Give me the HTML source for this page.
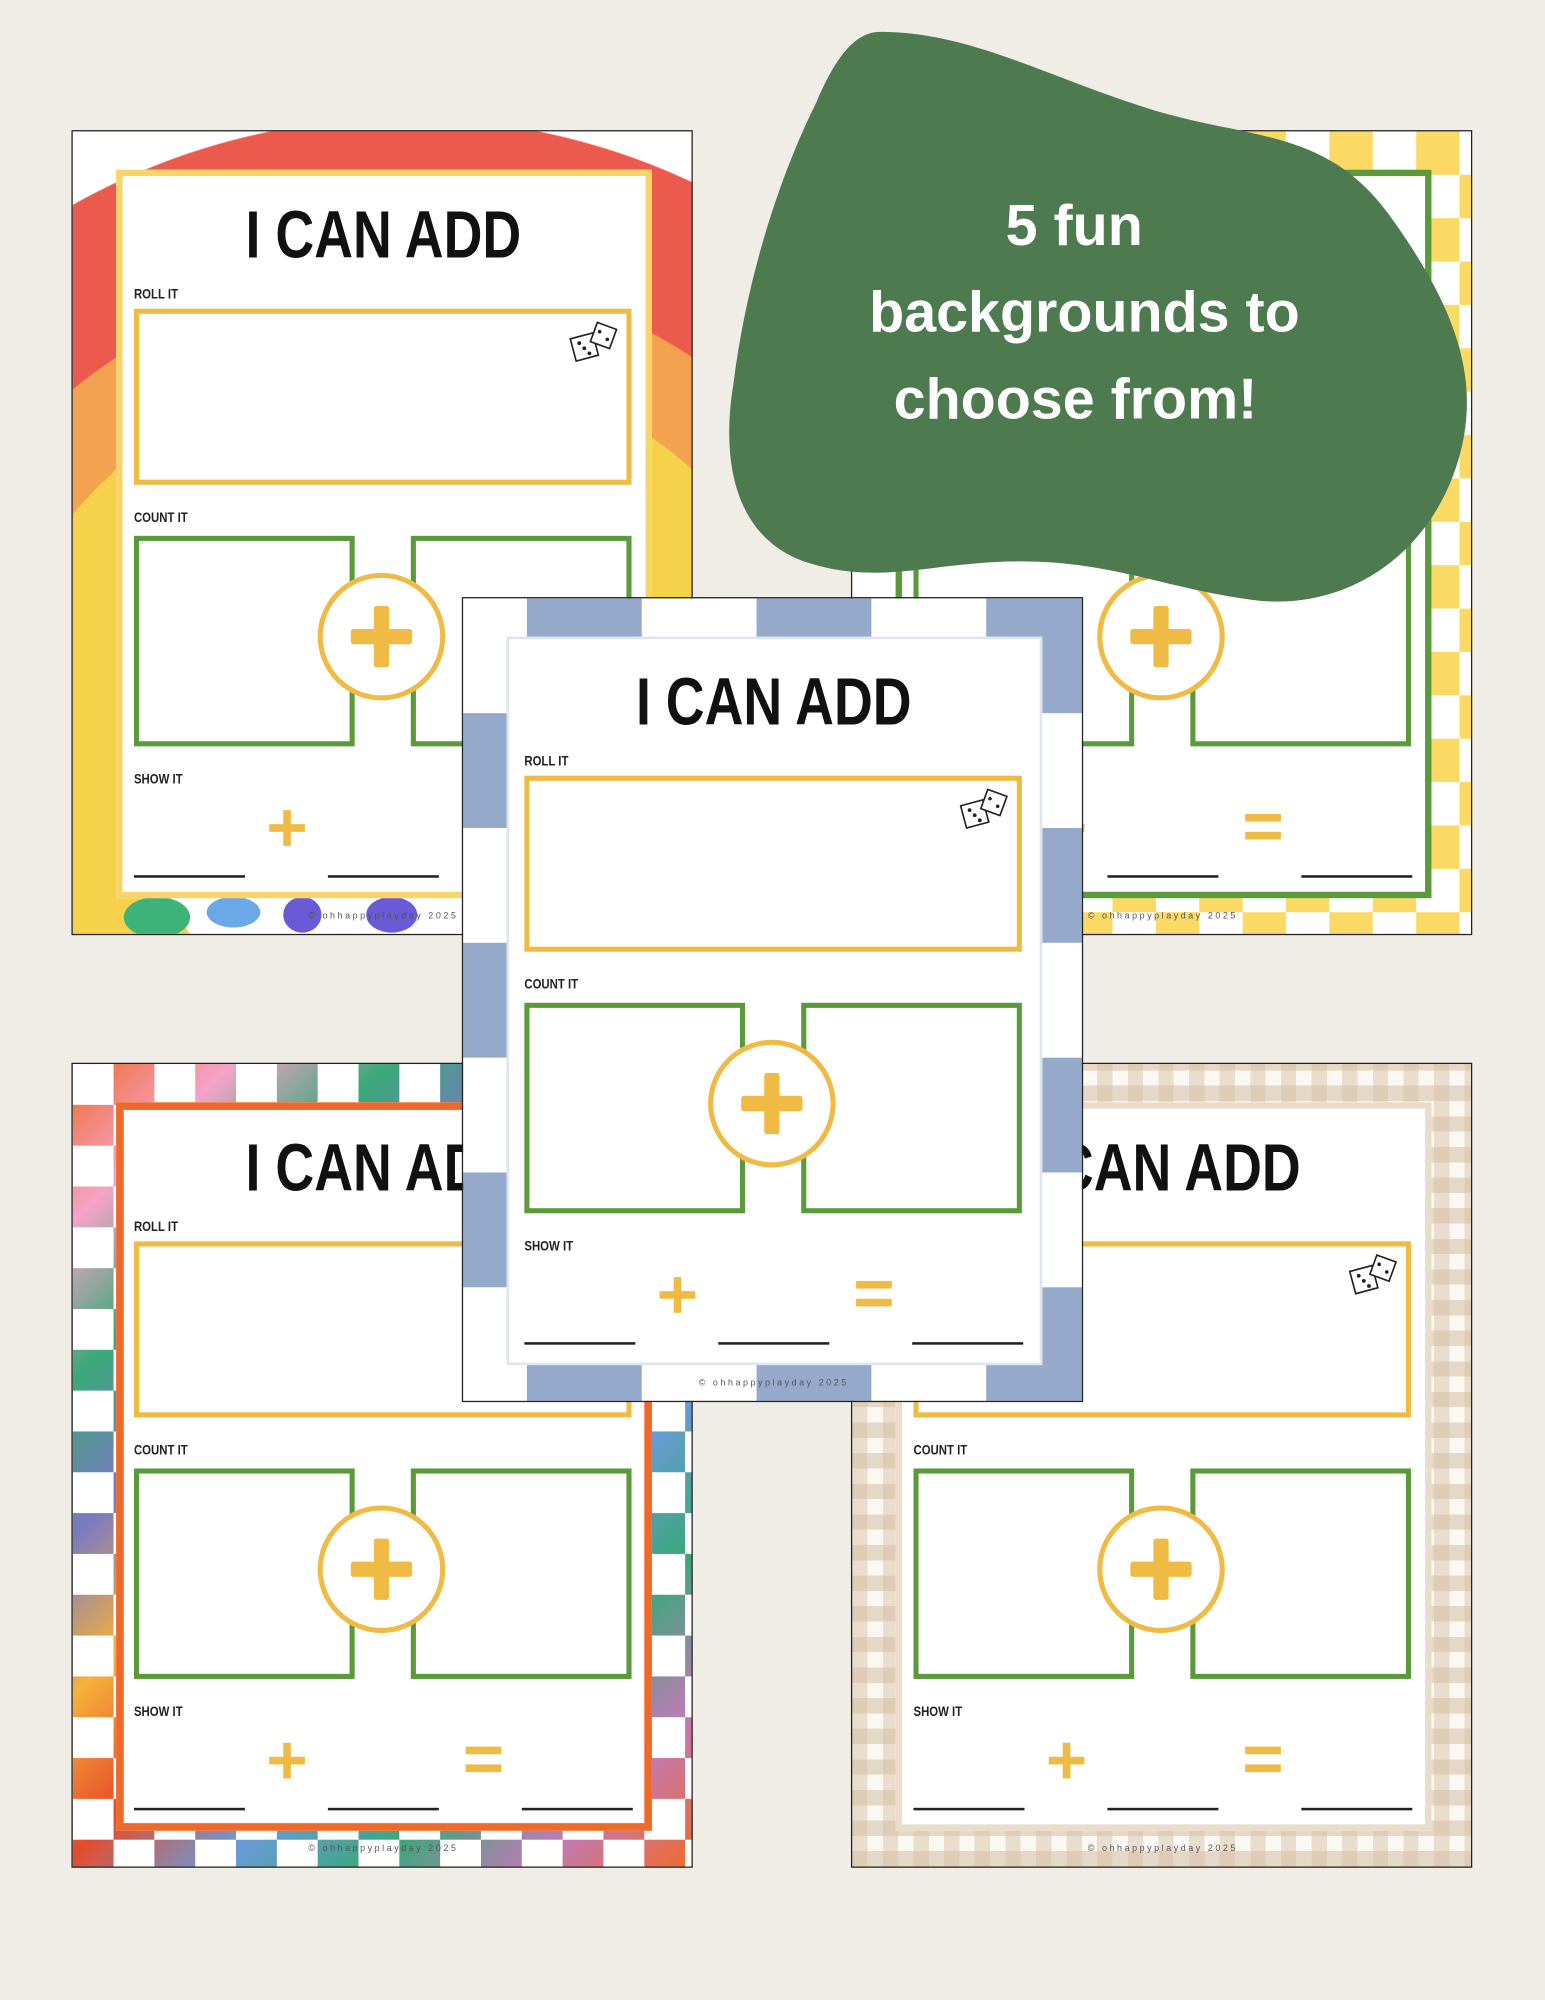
<!DOCTYPE html>
<html><head><meta charset="utf-8"><style>
html,body{margin:0;padding:0;background:#f0ede6;}
#wrap{position:relative;width:1211px;height:1568px;transform:scale(1.27580);transform-origin:0 0;overflow:hidden;font-family:"Liberation Sans",sans-serif;background:#f0ede6;}
.page{position:absolute;width:485px;height:629px;border:1.5px solid #222;background:#fff;overflow:hidden;}
.panel{position:absolute;left:34px;top:30px;width:420px;height:571px;background:#fff;box-sizing:border-box;}
.title{position:absolute;left:0;width:487px;top:52px;text-align:center;font-weight:bold;font-size:52px;line-height:60px;color:#111;transform:scaleX(0.81);}
.lbl{position:absolute;left:48px;font-size:10.5px;font-weight:bold;color:#222;transform:scaleX(0.85);transform-origin:0 0;}
.roll{position:absolute;left:48px;top:139px;width:390px;height:138px;border:4px solid #f0bb44;box-sizing:border-box;}
.cb{position:absolute;top:317px;width:173px;height:165px;border:4px solid #5a9a3a;box-sizing:border-box;}
.circ{position:absolute;left:192px;top:346px;width:100px;height:100px;border-radius:50%;border:4px solid #f0bb44;background:#fff;box-sizing:border-box;}
.circ:before{content:"";position:absolute;left:22px;top:40px;width:48px;height:12px;background:#f0bb44;border-radius:2px;}
.circ:after{content:"";position:absolute;left:40px;top:22px;width:12px;height:48px;background:#f0bb44;border-radius:2px;}
.pl{position:absolute;top:532px;width:28px;height:28px;}
.pl:before{content:"";position:absolute;left:0;top:11px;width:28px;height:6px;background:#f0bb44;}
.pl:after{content:"";position:absolute;left:11px;top:0;width:6px;height:28px;background:#f0bb44;}
.eq{position:absolute;top:535px;width:28px;height:21px;}
.eq:before,.eq:after{content:"";position:absolute;left:0;width:28px;height:6px;background:#f0bb44;}
.eq:before{top:0}.eq:after{top:14px}
.ln{position:absolute;top:583px;width:87px;height:2px;background:#222;}
.cp{position:absolute;top:612px;width:487px;text-align:center;font-size:7px;letter-spacing:2px;color:#555;}
.dice{position:absolute;left:388px;top:146px;}
</style></head><body><div id="wrap">

<!-- top-left rainbow -->
<div class="page" style="left:56px;top:102px;background:radial-gradient(circle at 260px 520px, #fff 0 200px, #f5d24a 201px 340px, #f3a350 341px 410px, #ec5a4e 411px 530px, #fff 531px);">
<div style="position:absolute;left:40px;top:600px;width:52px;height:32px;border-radius:50%;background:#3db37a"></div>
<div style="position:absolute;left:105px;top:600px;width:42px;height:24px;border-radius:50%;background:#6aa8e8"></div>
<div style="position:absolute;left:165px;top:600px;width:30px;height:28px;border-radius:50%;background:#6a5ad8"></div>
<div style="position:absolute;left:230px;top:600px;width:40px;height:28px;border-radius:50%;background:#6a5ad8"></div>
<div class="panel" style="border:5px solid #f7d56a;"></div>
<div class="title">I CAN ADD</div>
<div class="lbl" style="top:122px">ROLL IT</div>
<div class="roll"></div>
<svg class="dice" width="42" height="42" viewBox="0 0 42 42"><g fill="#fff" stroke="#222" stroke-width="1.3"><rect x="4" y="14" width="18" height="18" transform="rotate(-15 13 23)"/><rect x="20" y="6" width="16" height="16" transform="rotate(20 28 14)"/></g><g fill="#222"><circle cx="9" cy="20" r="1.5"/><circle cx="13" cy="24" r="1.5"/><circle cx="17" cy="28" r="1.5"/><circle cx="25" cy="11" r="1.4"/><circle cx="31" cy="17" r="1.4"/></g></svg>
<div class="lbl" style="top:297px">COUNT IT</div>
<div class="cb" style="left:48px"></div><div class="cb" style="left:265px"></div>
<div class="circ"></div>
<div class="lbl" style="top:502px">SHOW IT</div>
<div class="pl" style="left:154px"></div><div class="eq" style="left:308px"></div>
<div class="ln" style="left:48px"></div><div class="ln" style="left:200px"></div><div class="ln" style="left:352px"></div>
<div class="cp">© ohhappyplayday 2025</div>
</div>

<!-- top-right yellow checker -->
<div class="page" style="left:667px;top:102px;background:repeating-conic-gradient(#fbd965 0 25%, #fff 0 50%) 0 0/68px 68px;">
<div class="panel" style="border:5px solid #5a9a3a;"></div>
<div class="title">I CAN ADD</div>
<div class="lbl" style="top:122px">ROLL IT</div>
<div class="roll"></div>
<div class="lbl" style="top:297px">COUNT IT</div>
<div class="cb" style="left:48px"></div><div class="cb" style="left:265px"></div>
<div class="circ"></div>
<div class="lbl" style="top:502px">SHOW IT</div>
<div class="pl" style="left:154px"></div><div class="eq" style="left:308px"></div>
<div class="ln" style="left:48px"></div><div class="ln" style="left:200px"></div><div class="ln" style="left:352px"></div>
<div class="cp">© ohhappyplayday 2025</div>
</div>

<!-- bottom-left multicolor checker -->
<div class="page" style="left:56px;top:833px;background:repeating-conic-gradient(rgba(255,255,255,0) 0 25%, #fff 0 50%) 0 0/64px 64px, linear-gradient(135deg,#f06a2a,#f5a3c8,#3aa87a,#7a7ac0,#f5b13a,#e84a2a,#6a9ad8,#3aa87a,#c07ab8,#f06a2a);">
<div class="panel" style="border:6px solid #ef6a2a;"></div>
<div class="title">I CAN ADD</div>
<div class="lbl" style="top:122px">ROLL IT</div>
<div class="roll"></div>
<div class="lbl" style="top:297px">COUNT IT</div>
<div class="cb" style="left:48px"></div><div class="cb" style="left:265px"></div>
<div class="circ"></div>
<div class="lbl" style="top:502px">SHOW IT</div>
<div class="pl" style="left:154px"></div><div class="eq" style="left:308px"></div>
<div class="ln" style="left:48px"></div><div class="ln" style="left:200px"></div><div class="ln" style="left:352px"></div>
<div class="cp">© ohhappyplayday 2025</div>
</div>

<!-- bottom-right gingham -->
<div class="page" style="left:667px;top:833px;background:repeating-linear-gradient(90deg, rgba(215,190,160,.45) 0 12px, rgba(255,255,255,0) 12px 24px), repeating-linear-gradient(0deg, rgba(215,190,160,.45) 0 12px, #fbf7f2 12px 24px);">
<div class="panel" style="border:5px solid #e9dccb;"></div>
<div class="title">I CAN ADD</div>
<div class="lbl" style="top:122px">ROLL IT</div>
<div class="roll"></div>
<svg class="dice" width="42" height="42" viewBox="0 0 42 42"><g fill="#fff" stroke="#222" stroke-width="1.3"><rect x="4" y="14" width="18" height="18" transform="rotate(-15 13 23)"/><rect x="20" y="6" width="16" height="16" transform="rotate(20 28 14)"/></g><g fill="#222"><circle cx="9" cy="20" r="1.5"/><circle cx="13" cy="24" r="1.5"/><circle cx="17" cy="28" r="1.5"/><circle cx="25" cy="11" r="1.4"/><circle cx="31" cy="17" r="1.4"/></g></svg>
<div class="lbl" style="top:297px">COUNT IT</div>
<div class="cb" style="left:48px"></div><div class="cb" style="left:265px"></div>
<div class="circ"></div>
<div class="lbl" style="top:502px">SHOW IT</div>
<div class="pl" style="left:154px"></div><div class="eq" style="left:308px"></div>
<div class="ln" style="left:48px"></div><div class="ln" style="left:200px"></div><div class="ln" style="left:352px"></div>
<div class="cp">© ohhappyplayday 2025</div>
</div>

<!-- green blob -->
<svg style="position:absolute;left:0;top:0" width="1211" height="1568">
<path d="M690,25 C760,25 820,60 900,85 C980,110 1040,100 1090,170 C1140,240 1165,300 1140,370 C1115,440 1050,480 980,470 C910,460 870,440 800,440 C730,440 690,460 630,440 C575,420 565,360 575,300 C585,220 610,140 640,80 C655,45 670,25 690,25 Z" fill="#4e7a50"/>
<text x="842" y="192" fill="#fff" font-family="Liberation Sans, sans-serif" font-weight="bold" font-size="45" text-anchor="middle">5 fun</text>
<text x="850" y="260" fill="#fff" font-family="Liberation Sans, sans-serif" font-weight="bold" font-size="45" text-anchor="middle">backgrounds to</text>
<text x="843" y="328" fill="#fff" font-family="Liberation Sans, sans-serif" font-weight="bold" font-size="45" text-anchor="middle">choose from!</text>
</svg>

<!-- center blue checker -->
<div class="page" style="left:362px;top:468px;background:repeating-conic-gradient(#95aacb 0 25%, #fff 0 50%) -40px 0/180px 180px;">
<div class="panel" style="border:2px solid #dfe5ef;"></div>
<div class="title">I CAN ADD</div>
<div class="lbl" style="top:122px">ROLL IT</div>
<div class="roll"></div>
<svg class="dice" width="42" height="42" viewBox="0 0 42 42"><g fill="#fff" stroke="#222" stroke-width="1.3"><rect x="4" y="14" width="18" height="18" transform="rotate(-15 13 23)"/><rect x="20" y="6" width="16" height="16" transform="rotate(20 28 14)"/></g><g fill="#222"><circle cx="9" cy="20" r="1.5"/><circle cx="13" cy="24" r="1.5"/><circle cx="17" cy="28" r="1.5"/><circle cx="25" cy="11" r="1.4"/><circle cx="31" cy="17" r="1.4"/></g></svg>
<div class="lbl" style="top:297px">COUNT IT</div>
<div class="cb" style="left:48px"></div><div class="cb" style="left:265px"></div>
<div class="circ"></div>
<div class="lbl" style="top:502px">SHOW IT</div>
<div class="pl" style="left:154px"></div><div class="eq" style="left:308px"></div>
<div class="ln" style="left:48px"></div><div class="ln" style="left:200px"></div><div class="ln" style="left:352px"></div>
<div class="cp">© ohhappyplayday 2025</div>
</div>

</div></body></html>
